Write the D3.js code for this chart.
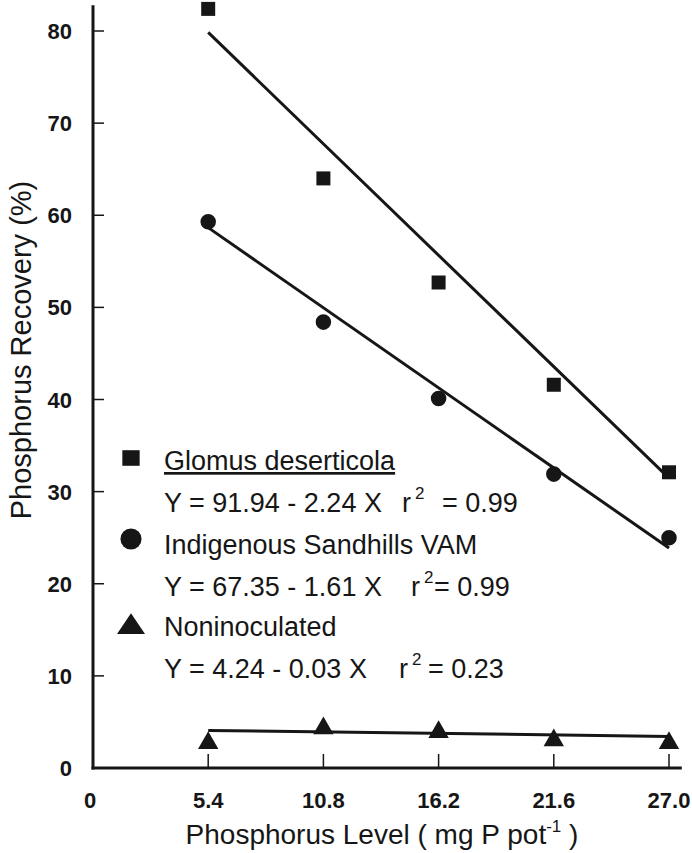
<!DOCTYPE html>
<html>
<head>
<meta charset="utf-8">
<script src="https://cdn.jsdelivr.net/npm/d3@7"></script>
<style>
  body { margin: 0; background: #fff; }
  text { font-family: "Liberation Sans", Arial, sans-serif; fill: #161616; }
</style>
</head>
<body>
<div id="chart"></div>
<script>
// data
var levels = [5.4, 10.8, 16.2, 21.6, 27.0];
var glomus = [82.4, 64.0, 52.7, 41.6, 32.1];
var indigenous = [59.3, 48.4, 40.1, 31.9, 25.0];
var noninoc = [2.7, 4.3, 3.9, 3.0, 2.7];

// regression lines from the legend: [intercept, slope]
var fitGlomus = [91.94, -2.24];
var fitIndigenous = [67.35, -1.61];
var fitNoninoc = [4.24, -0.03];

var xTicks = [0, 5.4, 10.8, 16.2, 21.6, 27.0];
var yTicks = [0, 10, 20, 30, 40, 50, 60, 70, 80];

var svgWidth = 692;
var svgHeight = 853;

var svg = d3.select("#chart")
    .append("svg")
    .attr("width", svgWidth)
    .attr("height", svgHeight);

// scales
var xScale = d3.scaleLinear()
    .domain([0, 27])
    .range([93, 669]);

var yScale = d3.scaleLinear()
    .domain([0, 80])
    .range([768, 31]);

var ink = "#161616";

// axes lines
svg.append("line")
    .attr("x1", xScale(0)).attr("x2", xScale(0))
    .attr("y1", yScale(82.8)).attr("y2", yScale(0) + 1.5)
    .attr("stroke", ink).attr("stroke-width", 3);
svg.append("line")
    .attr("x1", xScale(0) - 1.5).attr("x2", xScale(27.6))
    .attr("y1", yScale(0)).attr("y2", yScale(0))
    .attr("stroke", ink).attr("stroke-width", 3);

// y ticks (inward)
svg.selectAll(".ytick")
    .data(yTicks.slice(1))
    .enter()
    .append("line")
    .attr("x1", xScale(0)).attr("x2", xScale(0) + 11)
    .attr("y1", d => yScale(d)).attr("y2", d => yScale(d))
    .attr("stroke", ink).attr("stroke-width", 1.5);

svg.selectAll(".ylab")
    .data(yTicks)
    .enter()
    .append("text")
    .attr("x", 72)
    .attr("y", d => yScale(d) + 8)
    .attr("text-anchor", "end")
    .attr("font-size", 22)
    .attr("font-weight", "bold")
    .text(d => d);

// x ticks (inward)
svg.selectAll(".xtick")
    .data(xTicks.slice(1))
    .enter()
    .append("line")
    .attr("x1", d => xScale(d)).attr("x2", d => xScale(d))
    .attr("y1", yScale(0)).attr("y2", yScale(0) - 14)
    .attr("stroke", ink).attr("stroke-width", 1.5);

svg.selectAll(".xlab")
    .data(xTicks)
    .enter()
    .append("text")
    .attr("x", (d, i) => i === 0 ? 90 : xScale(d))
    .attr("y", 808)
    .attr("text-anchor", "middle")
    .attr("font-size", 22)
    .attr("font-weight", "bold")
    .text((d, i) => i === 0 ? "0" : d.toFixed(1));

// axis titles
svg.append("text")
    .attr("transform", "translate(31, 350) rotate(-90)")
    .attr("text-anchor", "middle")
    .attr("font-size", 29)
    .text("Phosphorus Recovery (%)");

var xt = svg.append("text")
    .attr("x", 382)
    .attr("y", 844)
    .attr("text-anchor", "middle")
    .attr("font-size", 28);
xt.append("tspan").text("Phosphorus Level ( mg P pot");
xt.append("tspan").attr("dy", -12).attr("font-size", 17).text("-1");
xt.append("tspan").attr("dy", 12).text(" )");

// regression lines
function fitLine(fit) {
    svg.append("line")
        .attr("x1", xScale(levels[0]))
        .attr("y1", yScale(fit[0] + fit[1] * levels[0]))
        .attr("x2", xScale(levels[levels.length - 1]))
        .attr("y2", yScale(fit[0] + fit[1] * levels[levels.length - 1]))
        .attr("stroke", ink)
        .attr("stroke-width", 3);
}
fitLine(fitGlomus);
fitLine(fitIndigenous);
fitLine(fitNoninoc);

// markers
var square = d3.symbol().type(d3.symbolSquare).size(196);
var circle = d3.symbol().type(d3.symbolCircle).size(190);
var triangle = d3.symbol().type(d3.symbolTriangle).size(180);

function points(values, sym) {
    svg.append("g").selectAll("path")
        .data(values)
        .enter()
        .append("path")
        .attr("d", sym)
        .attr("transform", (d, i) => `translate(${xScale(levels[i])}, ${yScale(d)})`)
        .attr("fill", ink);
}
points(glomus, square);
points(indigenous, circle);
points(noninoc, triangle);

// legend
var legend = [
    { sym: d3.symbol().type(d3.symbolSquare).size(300), sy: 0.9, my: 458, ty: 470, ey: 512,
      rx: 402, eqx: 442, name: "Glomus deserticola", a: "91.94", b: "2.24", r2: "0.99", underline: true },
    { sym: d3.symbol().type(d3.symbolCircle).size(350), sy: 1, my: 539, ty: 554, ey: 596,
      rx: 411, eqx: 434, name: "Indigenous Sandhills VAM", a: "67.35", b: "1.61", r2: "0.99", underline: false },
    { sym: d3.symbol().type(d3.symbolTriangle).size(340), sy: 0.85, my: 627, ty: 636, ey: 678,
      rx: 399, eqx: 428, name: "Noninoculated", a: "4.24", b: "0.03", r2: "0.23", underline: false }
];

legend.forEach(function (d) {
    svg.append("path")
        .attr("d", d.sym)
        .attr("transform", `translate(131, ${d.my}) scale(1, ${d.sy})`)
        .attr("fill", ink);
    svg.append("text")
        .attr("x", 164)
        .attr("y", d.ty)
        .attr("font-size", 27)
        .attr("text-decoration", d.underline ? "underline" : null)
        .text(d.name);
    svg.append("text")
        .attr("x", 164)
        .attr("y", d.ey)
        .attr("font-size", 27)
        .text(`Y = ${d.a} - ${d.b} X`);
    var r = svg.append("text")
        .attr("y", d.ey)
        .attr("font-size", 27);
    r.append("tspan").attr("x", d.rx).text("r");
    r.append("tspan").attr("x", d.rx + 13).attr("dy", -13).attr("font-size", 17).text("2");
    r.append("tspan").attr("x", d.eqx).attr("dy", 13).text("= " + d.r2);
});
</script>
</body>
</html>
